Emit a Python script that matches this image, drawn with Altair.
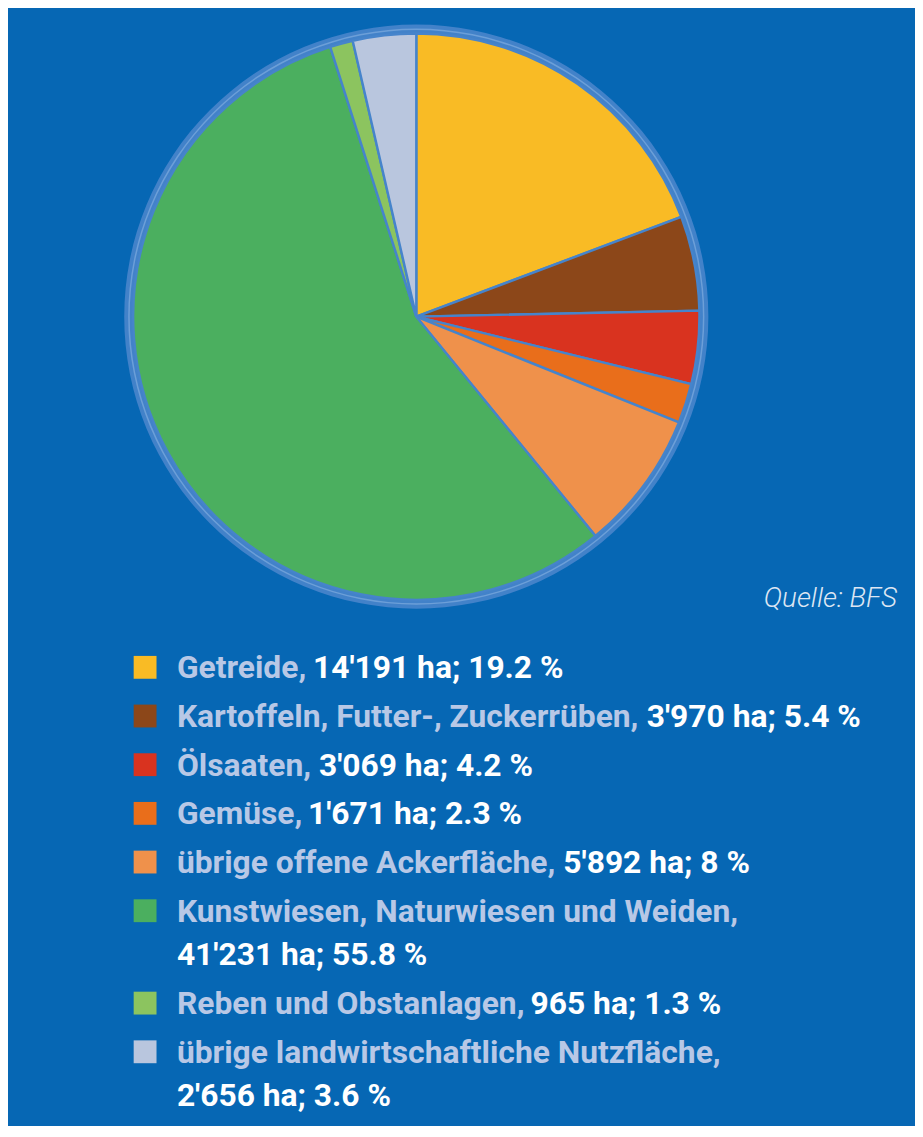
import altair as alt
import pandas as pd

categories = [
    "Getreide",
    "Kartoffeln, Futter-, Zuckerrüben",
    "Ölsaaten",
    "Gemüse",
    "übrige offene Ackerfläche",
    "Kunstwiesen, Naturwiesen und Weiden",
    "Reben und Obstanlagen",
    "übrige landwirtschaftliche Nutzfläche",
]
hectares = [14191, 3970, 3069, 1671, 5892, 41231, 965, 2656]
percent_labels = ["19.2", "5.4", "4.2", "2.3", "8", "55.8", "1.3", "3.6"]
colors = ["#f9bb25", "#8c4719", "#d9331f", "#e96e1b", "#ef914b", "#4baf5f", "#8cc45f", "#b9c6de"]

# layout only: which legend entries wrap, and where the value part starts on unwrapped lines
wrapped = [False, False, False, False, False, True, False, True]
value_x = [307, 643, 313, 302, 559, None, 526, None]

BG = "#0667b4"
NAME_COLOR = "#b8c8e6"
FONT = "Roboto"
FS = 32

W, H = 913, 1118
CX, CY = 411, 307
TEXT_X = 170

pie_df = pd.DataFrame({"cat": categories, "ha": hectares, "idx": list(range(len(categories)))})


def fmt_ha(v):
    return f"{v:,}".replace(",", "'")


sq_rows, white_rows, name_rows = [], [], []
wraps = 0
for k, (c, v, p, w, vx) in enumerate(zip(categories, hectares, percent_labels, wrapped, value_x)):
    yc = 660 + 49 * k + 44 * wraps
    sq_rows.append({"cat": c, "y": yc})
    val = f"{fmt_ha(v)} ha; {p} %"
    name_rows.append({"t": c + ",", "y": yc})
    if w:
        white_rows.append({"t": val, "y": yc + 44, "x": TEXT_X})
        wraps += 1
    else:
        white_rows.append({"t": val, "y": yc, "x": vx})

sq_df = pd.DataFrame(sq_rows)
white_df = pd.DataFrame(white_rows)
name_df = pd.DataFrame(name_rows)
one = pd.DataFrame({"a": [0]})

color_scale = alt.Scale(domain=categories, range=colors)

ring = alt.Chart(one).mark_arc(radius=294, radius2=283, theta=0, theta2=6.2832, fill="#4282c9").encode(
    x=alt.value(CX), y=alt.value(CY))
ring_line = alt.Chart(one).mark_arc(radius=290, radius2=288.5, theta=0, theta2=6.2832, fill="#6c9fd8").encode(
    x=alt.value(CX), y=alt.value(CY))

pie = alt.Chart(pie_df).mark_arc(outerRadius=285, stroke="#4684cb", strokeWidth=2.4).encode(
    theta=alt.Theta("ha:Q", stack=True),
    color=alt.Color("cat:N", scale=color_scale, legend=None),
    order=alt.Order("idx:Q"),
    x=alt.value(CX), y=alt.value(CY),
)

squares = alt.Chart(sq_df).mark_square(size=529, opacity=1).encode(
    x=alt.value(138),
    y=alt.Y("y:Q", scale=None),
    color=alt.Color("cat:N", scale=color_scale, legend=None),
)

name_text = alt.Chart(name_df).mark_text(
    align="left", baseline="alphabetic", dy=11, font=FONT, fontSize=FS, fontWeight="bold", color=NAME_COLOR
).encode(x=alt.value(TEXT_X), y=alt.Y("y:Q", scale=None), text="t:N")

white_text = alt.Chart(white_df).mark_text(
    align="left", baseline="alphabetic", dy=11, font=FONT, fontSize=FS, fontWeight="bold", color="white"
).encode(x=alt.X("x:Q", scale=None), y=alt.Y("y:Q", scale=None), text="t:N")

source = alt.Chart(one).mark_text(
    align="right", baseline="alphabetic", font=FONT, fontSize=28, fontStyle="italic", fontWeight=300,
    color="#dde6f3", text="Quelle: BFS"
).encode(x=alt.value(895), y=alt.value(599))

chart = alt.layer(ring, ring_line, pie, squares, name_text, white_text, source).properties(
    width=W, height=H, background=BG, padding=0, autosize=alt.AutoSizeParams(type="none")
).configure_view(stroke=None)

chart.save("out.html", embed_options={"renderer": "svg", "actions": False})
